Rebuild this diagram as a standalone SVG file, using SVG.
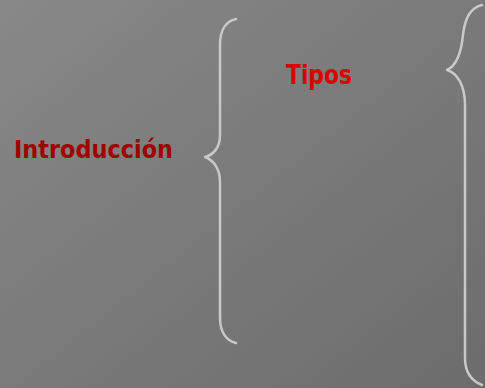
<svg xmlns="http://www.w3.org/2000/svg" width="485" height="388" viewBox="0 0 485 388">
  <defs>
    <linearGradient id="bg" x1="0" y1="0" x2="1" y2="1">
      <stop offset="0" stop-color="#888888"/>
      <stop offset="1" stop-color="#6c6c6c"/>
    </linearGradient>
  </defs>
  <style>
    .brace { fill: none; stroke: #c9c9c9; stroke-width: 2.5; stroke-linecap: round; stroke-linejoin: round; }
    .label { font-family: "Comic Sans MS", "DejaVu Sans", sans-serif; font-weight: bold; }
  </style>
  <rect width="485" height="388" fill="url(#bg)"/>

  <g id="introduccion">
    <text class="label" x="14" y="158" font-size="24.5" fill="#a00000" textLength="159" lengthAdjust="spacingAndGlyphs">Introducción</text>
  </g>

  <g id="tipos">
    <text class="label" x="286" y="84" font-size="26" fill="#dd0000" textLength="66" lengthAdjust="spacingAndGlyphs">Tipos</text>
  </g>

  <g id="connectors">
    <!-- brace grouping from Introducción -->
    <path class="brace" d="M236,19 C226,21 220,30 220,45 L220,135 C220,148 213,155 205,157 C213,160 220,168 220,182 L220,318 C220,333 227,341 236,343"/>
    <!-- brace grouping from Tipos -->
    <path class="brace" d="M482,5 C470,8 465,18 463,35 C461,55 456,66 447,70 C457,73 465,85 465,105 L465,358 C465,372 472,381 482,385"/>
  </g>
</svg>
